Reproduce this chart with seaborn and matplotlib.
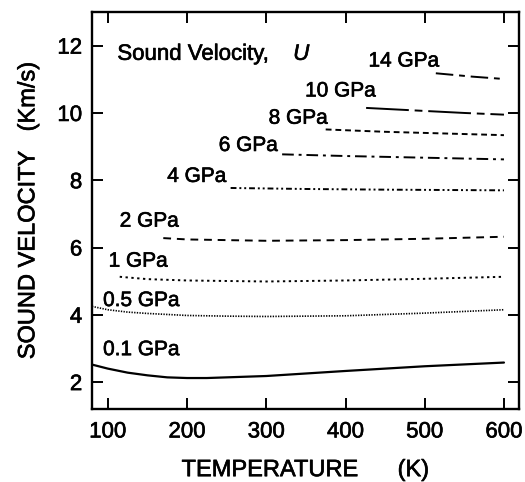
import matplotlib
matplotlib.use("Agg")
import matplotlib.pyplot as plt
import matplotlib.patheffects as pe
import seaborn as sns
import pandas as pd

# ---- data ----
pressures = ["0.1 GPa", "0.5 GPa", "1 GPa", "2 GPa", "4 GPa", "6 GPa", "8 GPa", "10 GPa", "14 GPa"]

t_01 = [80, 100, 125, 150, 175, 200, 225, 250, 300, 400, 500, 600]
u_01 = [2.52, 2.40, 2.28, 2.20, 2.14, 2.12, 2.12, 2.14, 2.18, 2.33, 2.47, 2.58]

t_05 = [80, 100, 125, 150, 200, 250, 300, 400, 500, 600]
u_05 = [4.25, 4.15, 4.08, 4.04, 3.98, 3.96, 3.95, 3.97, 4.05, 4.15]

t_1 = [115, 150, 200, 300, 400, 500, 600]
u_1 = [5.13, 5.06, 5.02, 4.99, 5.02, 5.07, 5.13]

t_2 = [170, 200, 300, 400, 500, 600]
u_2 = [6.28, 6.24, 6.20, 6.22, 6.26, 6.32]

t_4 = [255, 350, 450, 600]
u_4 = [7.77, 7.74, 7.72, 7.70]

t_6 = [320, 400, 500, 600]
u_6 = [8.77, 8.72, 8.67, 8.62]

t_8 = [375, 450, 525, 600]
u_8 = [9.51, 9.44, 9.39, 9.34]

t_10 = [426, 500, 550, 600]
u_10 = [10.15, 10.06, 10.00, 9.95]

t_14 = [514, 560, 600]
u_14 = [11.18, 11.08, 11.01]

x_ticks = [100, 200, 300, 400, 500, 600]
y_ticks = [2, 4, 6, 8, 10, 12]

series_t = [t_01, t_05, t_1, t_2, t_4, t_6, t_8, t_10, t_14]
series_u = [u_01, u_05, u_1, u_2, u_4, u_6, u_8, u_10, u_14]

rows = []
for p, ts, us in zip(pressures, series_t, series_u):
    for t, u in zip(ts, us):
        rows.append({"T": t, "U": u, "P": p})
df = pd.DataFrame(rows)

sns.set_style("ticks")
plt.rcParams["font.family"] = ["Liberation Sans", "DejaVu Sans"]
plt.rcParams["text.color"] = "black"
plt.rcParams["axes.labelcolor"] = "black"
plt.rcParams["xtick.color"] = "black"
plt.rcParams["ytick.color"] = "black"

stroke = [pe.withStroke(linewidth=0.45, foreground="black")]

fig = plt.figure(figsize=(5.25, 4.82), dpi=100)
ax = fig.add_axes([0.1752, 0.1515, 0.9886 - 0.1752, 0.975 - 0.1515])

dash_map = {
    "0.1 GPa": "",
    "0.5 GPa": (0.8, 0.8),
    "1 GPa": (1.2, 1.8),
    "2 GPa": (4, 3),
    "4 GPa": (3, 1.5, 1, 1.5, 1, 1.5),
    "6 GPa": (6, 2.5, 1.5, 2.5),
    "8 GPa": (3, 2),
    "10 GPa": (22, 3, 4, 3),
    "14 GPa": (9, 3, 3, 3),
}
width_map = {"0.1 GPa": 1.6, "0.5 GPa": 1.2, "1 GPa": 1.4}

for p in pressures:
    sub = df[df["P"] == p]
    sns.lineplot(data=sub, x="T", y="U", ax=ax, color="black",
                 lw=width_map.get(p, 1.4), legend=False, sort=True,
                 estimator=None)
    line = ax.get_lines()[-1]
    d = dash_map[p]
    if d:
        line.set_dashes(d)

ax.set_xlim(80, 619)
ax.set_ylim(1.2, 13.0)
ax.set_xticks(x_ticks)
ax.set_yticks(y_ticks)
ax.tick_params(direction="in", top=True, right=True, length=8, width=1.4,
               labelsize=16, colors="black")
ax.tick_params(axis="x", pad=9)
ax.tick_params(axis="y", pad=7)
for s in ax.spines.values():
    s.set_linewidth(1.7)
    s.set_color("black")
for lbl in ax.get_xticklabels() + ax.get_yticklabels():
    lbl.set_path_effects(stroke)

xl = ax.set_xlabel("TEMPERATURE      (K)", fontsize=17, labelpad=12)
yl = ax.set_ylabel("SOUND VELOCITY   (Km/s)", fontsize=17, labelpad=13)
xl.set_path_effects(stroke)
yl.set_path_effects(stroke)

fs = 15
off = 0.22
ax.text(112, 11.8 - off, "Sound Velocity,", fontsize=16, va="baseline",
        path_effects=stroke)
ax.text(334, 11.8 - off, "U", fontsize=16, va="baseline", fontstyle="italic",
        path_effects=stroke)
label_pos = {
    "14 GPa": (429, 11.6), "10 GPa": (349, 10.71), "8 GPa": (303, 9.9),
    "6 GPa": (240, 9.09), "4 GPa": (175, 8.17), "2 GPa": (115, 6.84),
    "1 GPa": (101, 5.65), "0.5 GPa": (94, 4.48), "0.1 GPa": (94, 3.02),
}
for lab, (x, y) in label_pos.items():
    ax.text(x, y - off, lab, fontsize=fs, va="baseline", path_effects=stroke)

fig.savefig("out.png", dpi=100)
